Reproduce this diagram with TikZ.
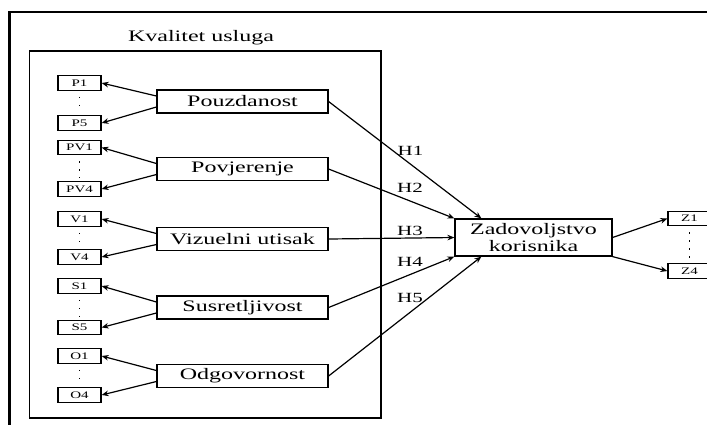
\documentclass[tikz,border=0pt]{standalone}
\usepackage{fontspec}
\setmainfont{Liberation Serif}[FakeStretch=1.5]
\usetikzlibrary{arrows.meta}
\usetikzlibrary{positioning}
\usetikzlibrary{calc}

\begin{document}
\begin{tikzpicture}[x=0.5pt,y=-0.5pt,
  main/.style={draw, line width=0.6pt, minimum width=85.5pt, minimum height=11.5pt, inner sep=0pt, font=\fontsize{8}{8.5}\selectfont},
  item/.style={draw, line width=0.6pt, minimum width=21.5pt, minimum height=7.25pt, inner sep=0pt, font=\fontsize{5}{5.5}\selectfont},
  zbox/.style={draw, line width=0.6pt, minimum width=78.5pt, minimum height=18.5pt, inner sep=0pt, align=center, font=\fontsize{8}{8.3}\selectfont},
  arr/.style={line width=0.6pt, -{Stealth[length=3.5pt,width=2.8pt]}},
  dots/.style={line width=0.6pt, dash pattern=on 0.6pt off 3.4pt, shorten <=3pt, shorten >=1.5pt},
  hyp/.style={font=\fontsize{7}{7}\selectfont, inner sep=0pt}]
  \useasboundingbox (0,0) rectangle (707,425);
  \draw[line width=1.1pt] (707,12) -- (9.5,12) -- (9.5,425);
  \draw[line width=0.6pt] (29.5,51) rectangle (381,418);
  \node[font=\fontsize{8}{8.5}\selectfont, inner sep=0pt] (naslov) at (201,38) {Kvalitet usluga};

	\begin{scope}[shift={(0,101.5)}]
  \node[main] (M1) at (242.5,0) {Pouzdanost};
  \node[item] (P1) at (79.5,-18.5) {P1};
  \node[item] (P5) at (79.5,21.5) {P5};
  \draw[dots] (P1.south) -- (P5.north);
  \draw[arr] ([yshift=2.75pt]M1.west) -- (P1.east);
  \draw[arr] ([yshift=-2.75pt]M1.west) -- (P5.east);
  \end{scope}
	\begin{scope}[shift={(0,169)}]
  \node[main] (M2) at (242.5,0) {Povjerenje};
  \node[item] (PV1) at (79.5,-21.5) {PV1};
  \node[item] (PV4) at (79.5,20) {PV4};
  \draw[dots] (PV1.south) -- (PV4.north);
  \draw[arr] ([yshift=2.75pt]M2.west) -- (PV1.east);
  \draw[arr] ([yshift=-2.75pt]M2.west) -- (PV4.east);
  \end{scope}
	\begin{scope}[shift={(0,239)}]
  \node[main] (M3) at (242.5,0) {Vizuelni utisak};
  \node[item] (V1) at (79.5,-20) {V1};
  \node[item] (V4) at (79.5,18) {V4};
  \draw[dots] (V1.south) -- (V4.north);
  \draw[arr] ([yshift=2.75pt]M3.west) -- (V1.east);
  \draw[arr] ([yshift=-2.75pt]M3.west) -- (V4.east);
  \end{scope}
	\begin{scope}[shift={(0,307.5)}]
  \node[main] (M4) at (242.5,0) {Susretljivost};
  \node[item] (S1) at (79.5,-21.5) {S1};
  \node[item] (S5) at (79.5,20) {S5};
  \draw[dots] (S1.south) -- (S5.north);
  \draw[arr] ([yshift=2.75pt]M4.west) -- (S1.east);
  \draw[arr] ([yshift=-2.75pt]M4.west) -- (S5.east);
  \end{scope}
	\begin{scope}[shift={(0,376)}]
  \node[main] (M5) at (242.5,0) {Odgovornost};
  \node[item] (O1) at (79.5,-20) {O1};
  \node[item] (O4) at (79.5,19) {O4};
  \draw[dots] (O1.south) -- (O4.north);
  \draw[arr] ([yshift=2.75pt]M5.west) -- (O1.east);
  \draw[arr] ([yshift=-2.75pt]M5.west) -- (O4.east);
  \end{scope}

  \node[zbox] (Z) at (533.5,237.5) {Zadovoljstvo\\korisnika};
  \node[item] (Z1) at (689.5,218.5) {Z1};
  \node[item] (Z4) at (689.5,271) {Z4};
  \draw[dots] (Z1.south) -- (Z4.north);
  \draw[arr] (Z.east) -- (Z1.west);
  \draw[arr] (Z.south east) -- (Z4.west);

  \draw[arr] (M1.east) -- ([xshift=13.5pt]Z.north west);
  \draw[arr] (M2.east) -- (Z.north west);
  \draw[arr] (M3.east) -- (Z.west);
  \draw[arr] (M4.east) -- (Z.south west);
  \draw[arr] (M5.east) -- ([xshift=13.5pt]Z.south west);
  \node[hyp] (H1) at (410.5,150.5) {H1};
  \node[hyp] (H2) at (410,188) {H2};
  \node[hyp] (H3) at (410,230.5) {H3};
  \node[hyp] (H4) at (410,262) {H4};
  \node[hyp] (H5) at (410,297.5) {H5};
	\end{tikzpicture}
\end{document}
